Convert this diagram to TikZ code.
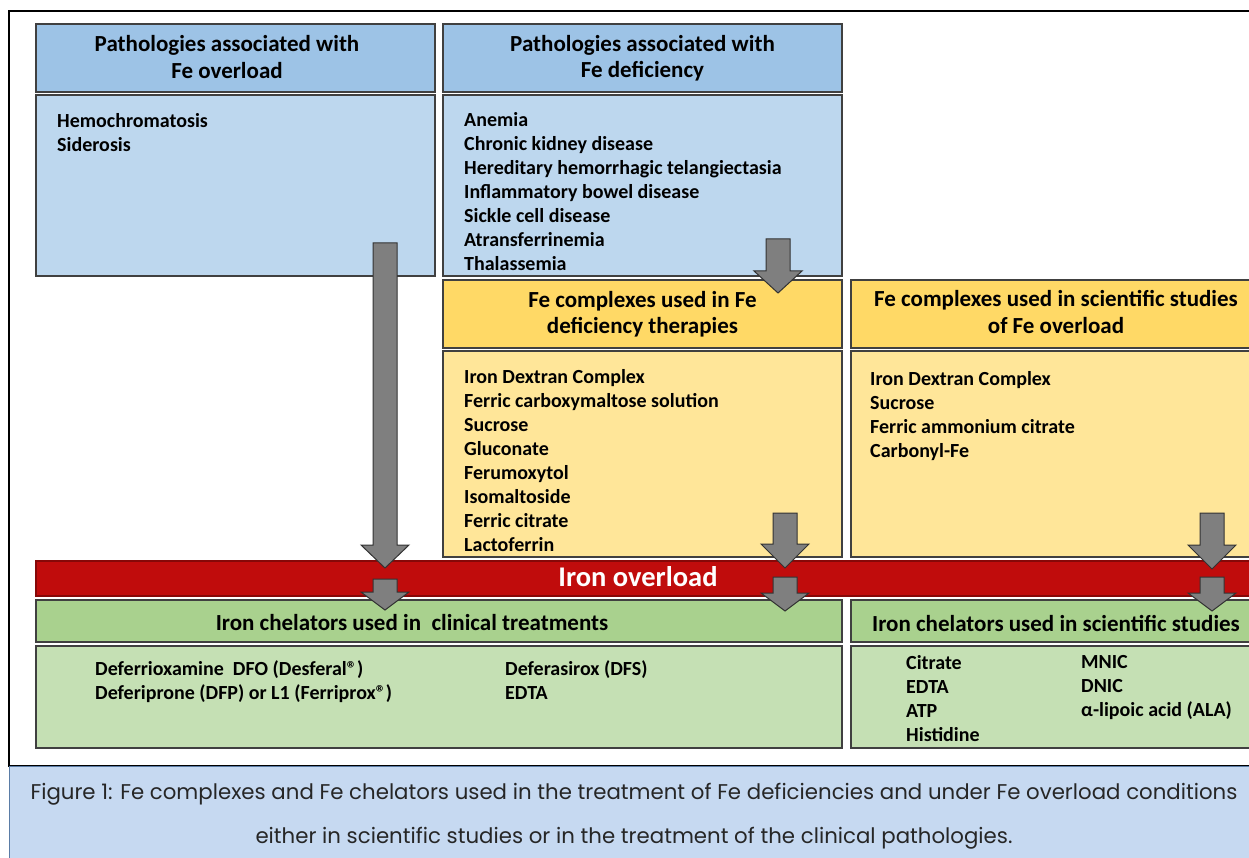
\documentclass[tikz,border=0pt]{standalone}
\usepackage{fontspec}
\setmainfont{Carlito}
\newfontfamily\captionfamily{Poppins}
\usetikzlibrary{positioning}

\definecolor{hdrblue}{HTML}{9DC3E6}
\definecolor{bodyblue}{HTML}{BDD7EE}
\definecolor{hdrorange}{HTML}{FFD966}
\definecolor{bodyorange}{HTML}{FFE699}
\definecolor{ironred}{HTML}{C00C0C}
\definecolor{hdrgreen}{HTML}{A9D18E}
\definecolor{bodygreen}{HTML}{C5E0B4}
\definecolor{capblue}{HTML}{C6D9F1}
\definecolor{capline}{HTML}{5A7CA6}
\definecolor{arrowgray}{HTML}{7F7F7F}

\newcommand{\headfont}{\bfseries\fontsize{23}{26.5}\selectfont}
\newcommand{\listfont}{\bfseries\fontsize{20}{24}\selectfont}
\newcommand{\ironfont}{\bfseries\fontsize{28.5}{30}\selectfont}
\newcommand{\capfont}{\captionfamily\fontsize{21.3}{44}\selectfont}

% block arrow: top centre, shaft length, head length
\newcommand{\blockarrow}[3]{%
  \draw[arrowbody] (#1) ++(-12,0) -- ++(0,#2) -- ++(-12,0) -- ++(24,#3)
    -- ++(24,-#3) -- ++(-12,0) -- ++(0,-#2) -- cycle;}

\tikzset{
  box/.style={draw=black!75, line width=1.2pt, rectangle, inner sep=0pt, outer sep=0pt},
  headbox/.style={box, minimum height=68pt, align=center, font=\headfont},
  listbox/.style={box},
  listtext/.style={inner sep=0pt, align=left, anchor=north west, font=\listfont},
  arrowbody/.style={fill=arrowgray, draw=black!80, line width=1pt, line join=miter}
}

\begin{document}
\begin{tikzpicture}[x=1pt,y=-1pt]
  \useasboundingbox (0,0) rectangle (1249,858);
  \clip (0,0) rectangle (1249,858);
  \draw[line width=2pt] (9,11) rectangle (1280,766);

  \node[headbox, fill=hdrblue, minimum width=399pt, anchor=north west] (ovhead) at (36,24) {};
  \node[align=center, font=\headfont] (ovlabel) at (227,57) {Pathologies associated with\\Fe overload};
  \node[listbox, fill=bodyblue, minimum width=399pt, minimum height=181pt, below=3pt of ovhead] (ovbody) {};
  \node[headbox, fill=hdrblue, minimum width=399pt, right=8pt of ovhead] (defhead)
    {Pathologies associated with\\Fe deficiency};
  \node[listbox, fill=bodyblue, minimum width=399pt, minimum height=181pt, below=3pt of defhead] (defbody) {};
  \node[headbox, fill=hdrorange, minimum width=399pt, below=4pt of defbody] (therhead)
    {Fe complexes used in Fe\\deficiency therapies};
  \node[listbox, fill=bodyorange, minimum width=399pt, minimum height=206pt, below=3pt of therhead] (therbody) {};
  \node[headbox, fill=hdrorange, minimum width=420pt, right=9pt of therhead] (studhead) {};
  \node[align=center, font=\headfont] (studlabel) at (1056,312) {Fe complexes used in scientific studies\\of Fe overload};
  \node[listbox, fill=bodyorange, minimum width=420pt, minimum height=206pt, below=3pt of studhead] (studbody) {};

  \node[listtext] (ovlist) at ([xshift=21pt,yshift=-18pt]ovbody.north west)
    {Hemochromatosis\\Siderosis};
  \node[listtext] (deflist) at ([xshift=21pt,yshift=-17pt]defbody.north west)
    {Anemia\\Chronic kidney disease\\Hereditary hemorrhagic telangiectasia\\Inflammatory bowel disease\\Sickle cell disease\\Atransferrinemia\\Thalassemia};
  \node[listtext] (therlist) at ([xshift=21pt,yshift=-18pt]therbody.north west)
    {Iron Dextran Complex\\Ferric carboxymaltose solution\\Sucrose\\Gluconate\\Ferumoxytol\\Isomaltoside\\Ferric citrate\\Lactoferrin};
  \node[listtext] (studlist) at ([xshift=19pt,yshift=-20pt]studbody.north west)
    {Iron Dextran Complex\\Sucrose\\Ferric ammonium citrate\\Carbonyl-Fe};

  \node[box, fill=ironred, draw=ironred!70!black, minimum width=1240pt, minimum height=35pt, anchor=north west] (ironband) at (36,561) {};
  \node[font=\ironfont, text=white] (ironlabel) at (638,577) {Iron overload};

  \node[box, fill=hdrgreen, minimum width=806pt, minimum height=42pt, anchor=north west] (clinhead) at (36,600) {};
  \node[font=\headfont] (clinlabel) at (412,623) {Iron chelators used in\ \ clinical treatments};
  \node[box, fill=bodygreen, minimum width=806pt, minimum height=102pt, below=4pt of clinhead] (clinbody) {};
  \node[box, fill=hdrgreen, minimum width=420pt, minimum height=42pt, right=9pt of clinhead] (chelhead) {};
  \node[font=\headfont] (chellabel) at (1056,623) {Iron chelators used in scientific studies};
  \node[box, fill=bodygreen, minimum width=420pt, minimum height=102pt, below=4pt of chelhead] (chelbody) {};

  \node[listtext] (clinlistA) at ([xshift=59pt,yshift=-14pt]clinbody.north west)
    {Deferrioxamine\ \ DFO (Desferal®)\\Deferiprone (DFP) or L1 (Ferriprox®)};
  \node[listtext] (clinlistB) at ([xshift=469pt,yshift=-14pt]clinbody.north west)
    {Deferasirox (DFS)\\EDTA};
  \node[listtext] (chellistA) at ([xshift=55pt,yshift=-9pt]chelbody.north west)
    {Citrate\\EDTA\\ATP\\Histidine};
  \node[listtext] (chellistB) at ([xshift=230pt,yshift=-9pt]chelbody.north west)
    {MNIC\\DNIC\\α-lipoic acid (ALA)};

  \coordinate (ovtop) at (385,243);
  \coordinate (ovbot) at (385,579);
  \coordinate (deftop) at (778,239);
  \coordinate (thertop) at (785,513);
  \coordinate (therbot) at (785,577);
  \coordinate (studtop) at (1212,513);
  \coordinate (studbot) at (1212,577);
  \blockarrow{ovtop}{302}{23}
  \blockarrow{ovbot}{13}{18}
  \blockarrow{deftop}{32}{22}
  \blockarrow{thertop}{31}{24}
  \blockarrow{therbot}{16}{18}
  \blockarrow{studtop}{32}{24}
  \blockarrow{studbot}{16}{18}

  \draw[fill=capblue, draw=capline, line width=1pt] (9,766) rectangle (1280,880);
  \node[font=\capfont, align=center, text=black!85] (caption) at (634,816)
    {Figure 1: Fe complexes and Fe chelators used in the treatment of Fe deficiencies and under Fe overload conditions\\either in scientific studies or in the treatment of the clinical pathologies.};
\end{tikzpicture}
\end{document}
